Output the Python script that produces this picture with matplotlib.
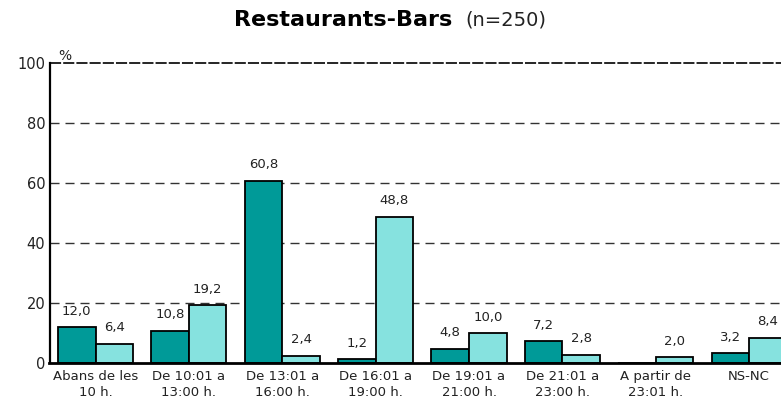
import matplotlib.pyplot as plt
import numpy as np

plt.rcParams["font.family"] = ["DejaVu Sans"]
plt.rcParams["lines.scale_dashes"] = False

categories = [
    "Abans de les\n10 h.",
    "De 10:01 a\n13:00 h.",
    "De 13:01 a\n16:00 h.",
    "De 16:01 a\n19:00 h.",
    "De 19:01 a\n21:00 h.",
    "De 21:01 a\n23:00 h.",
    "A partir de\n23:01 h.",
    "NS-NC",
]
dark_vals = [12.0, 10.8, 60.8, 1.2, 4.8, 7.2, 0.0, 3.2]
light_vals = [6.4, 19.2, 2.4, 48.8, 10.0, 2.8, 2.0, 8.4]
y_ticks = [0, 20, 40, 60, 80, 100]

DARK = "#009a98"
LIGHT = "#86e2df"
W, H = 781, 403

fig = plt.figure(figsize=(W / 100, H / 100), dpi=100)
# axes run past the right edge of the picture, like the reference
ax = fig.add_axes([49.5 / W, 40 / H, 747 / W, 300 / H])
ax.patch.set_alpha(0)

x = np.arange(len(categories))
bw = 0.402
ax.bar(x - bw / 2, dark_vals, bw, color=DARK, edgecolor="black", linewidth=1.3, zorder=3)
ax.bar(x + bw / 2, light_vals, bw, color=LIGHT, edgecolor="black", linewidth=1.3, zorder=3)

for xs, vals in ((x - bw / 2, dark_vals), (x + bw / 2, light_vals)):
    for xi, v in zip(xs, vals):
        if v == 0:
            continue
        ax.annotate(f"{v:.1f}".replace(".", ","), (xi, v), xytext=(0, 11.5),
                    textcoords="offset points", ha="center", va="center",
                    fontsize=9.5, color="#222222", zorder=4)

for yv in y_ticks[1:-1]:
    ax.axhline(yv, color="#333333", linewidth=1.0, dashes=(6.5, 4.3), zorder=1)
ax.axhline(100, color="black", linewidth=1.2, dashes=(8, 1.5), zorder=1, clip_on=False)

ax.set_xlim(-0.493, len(categories) - 0.493)
ax.set_ylim(0, 100)
ax.set_yticks(y_ticks)
ax.set_xticks(x)
ax.set_xticklabels(categories, fontsize=9.5, color="#222222", linespacing=1.35)
ax.tick_params(axis="y", length=0, pad=3, labelsize=10.5, labelcolor="#222222")
ax.tick_params(axis="x", length=0, pad=5)

for side in ("top", "right"):
    ax.spines[side].set_visible(False)
ax.spines["left"].set_linewidth(1.6)
ax.spines["bottom"].set_linewidth(2.0)
ax.spines["left"].set_zorder(5)
ax.spines["bottom"].set_zorder(5)

ax.text(-0.493 + 0.09, 100, "%", ha="left", va="bottom",
        fontsize=10, color="#222222")

# title: bold part + normal part, centered together
t1 = fig.text(0, 1 - 20 / H, "Restaurants-Bars", fontsize=16, fontweight="bold",
              va="center", ha="left")
t2 = fig.text(0, 1 - 20 / H, "(n=250)", fontsize=14, va="center", ha="left",
              color="#222222")
fig.canvas.draw()
r = fig.canvas.get_renderer()
w1 = t1.get_window_extent(r).width
w2 = t2.get_window_extent(r).width
gap = 13
x0 = (W - (w1 + gap + w2)) / 2
t1.set_x(x0 / W)
t2.set_x((x0 + w1 + gap) / W)

fig.savefig("out.png", dpi=100)
